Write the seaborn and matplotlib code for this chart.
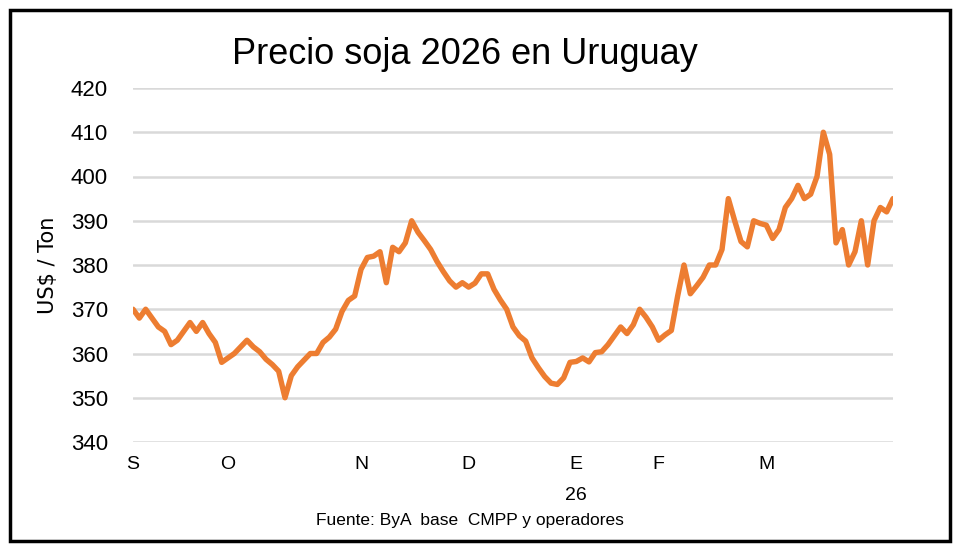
import matplotlib
matplotlib.use("Agg")
import matplotlib.pyplot as plt
import seaborn as sns
import pandas as pd
from matplotlib.patches import Rectangle
from matplotlib.transforms import blended_transform_factory

# ---- data ----
precio = [
    370, 368, 370, 368, 366, 365, 362, 363, 365, 367,
    365, 367, 364.5, 362.5, 358, 359, 360, 361.5, 363, 361.5,
    360.4, 358.7, 357.5, 356, 350, 355, 357, 358.5, 360, 360,
    362.5, 363.7, 365.5, 369.5, 372, 373, 379, 381.7, 382, 383,
    376, 384, 383, 385, 390, 387.4, 385.5, 383.5, 380.8, 378.5,
    376.4, 375, 376, 375, 375.9, 378, 378, 374.5, 372.1, 370,
    366, 364, 362.8, 359, 356.8, 354.8, 353.3, 353, 354.5, 358,
    358.2, 359, 358.1, 360.2, 360.4, 362, 364, 366, 364.5, 366.5,
    370, 368.2, 366, 363, 364.2, 365.2, 373, 380, 373.5, 375.3,
    377.2, 380, 380, 383.5, 395, 390, 385.3, 384.1, 390, 389.4,
    389, 386, 388, 393, 395, 398, 395, 396, 400, 410,
    405, 385, 388, 380, 383, 390, 380, 390, 393, 392,
    395,
]
mes_pos = [0, 15, 36, 53, 70, 83, 100]
mes_lab = ["S", "O", "N", "D", "E", "F", "M"]
anio_pos = 70
anio_lab = "26"
y_ticks = [340, 350, 360, 370, 380, 390, 400, 410, 420]

titulo = "Precio soja 2026 en Uruguay"
eje_y = "US$ / Ton"
fuente = "Fuente: ByA  base  CMPP y operadores"

df = pd.DataFrame({"idx": list(range(len(precio))), "precio": precio})

sns.set_theme(style="white")
fam = ["Liberation Sans", "DejaVu Sans"]
plt.rcParams["font.family"] = fam

W, H = 961, 555
fig = plt.figure(figsize=(W / 100, H / 100), dpi=100)
fig.patch.set_facecolor("white")
ax = fig.add_axes([133 / W, 1 - 442 / H, (893 - 133) / W, (442 - 88) / H])

for v in y_ticks:
    ax.axhline(v, color="#d9d9d9", lw=1.8, zorder=0)

sns.lineplot(data=df, x="idx", y="precio", ax=ax, color="#ED7D31",
             linewidth=3.9, zorder=3)

ax.set_xlim(0, len(precio) - 1)
ax.set_ylim(340, 420)
ax.set_yticks(y_ticks)
ax.set_yticklabels([str(v) for v in y_ticks], fontsize=16, color="black")
ax.set_xticks(mes_pos)
ax.set_xticklabels(mes_lab, fontsize=14, color="black")
ax.tick_params(axis="both", length=0)
ax.tick_params(axis="y", pad=18)
ax.tick_params(axis="x", pad=10)
for s in ax.spines.values():
    s.set_visible(False)
ax.set_xlabel("")
ax.set_ylabel("")
ax.grid(False)

trans = blended_transform_factory(ax.transData, fig.transFigure)
ax.text(anio_pos, 1 - 495 / H, anio_lab, transform=trans, ha="center",
        va="center", fontsize=14, color="black")

fig.text(48 / W, 1 - 265 / H, eje_y, rotation=90, ha="center", va="center",
         fontsize=15, color="black", family=["DejaVu Sans"])
fig.text(465 / W, 1 - 55 / H, titulo, ha="center", va="center",
         fontsize=26, color="black")
fig.text(470 / W, 1 - 521 / H, fuente, ha="center", va="center",
         fontsize=12.5, color="black")

fig.patches.append(Rectangle((10 / W, 1 - 541 / H), 940 / W, 531 / H,
                             transform=fig.transFigure, fill=False,
                             ec="black", lw=2.5))

fig.savefig("out.png", dpi=100, facecolor="white")
